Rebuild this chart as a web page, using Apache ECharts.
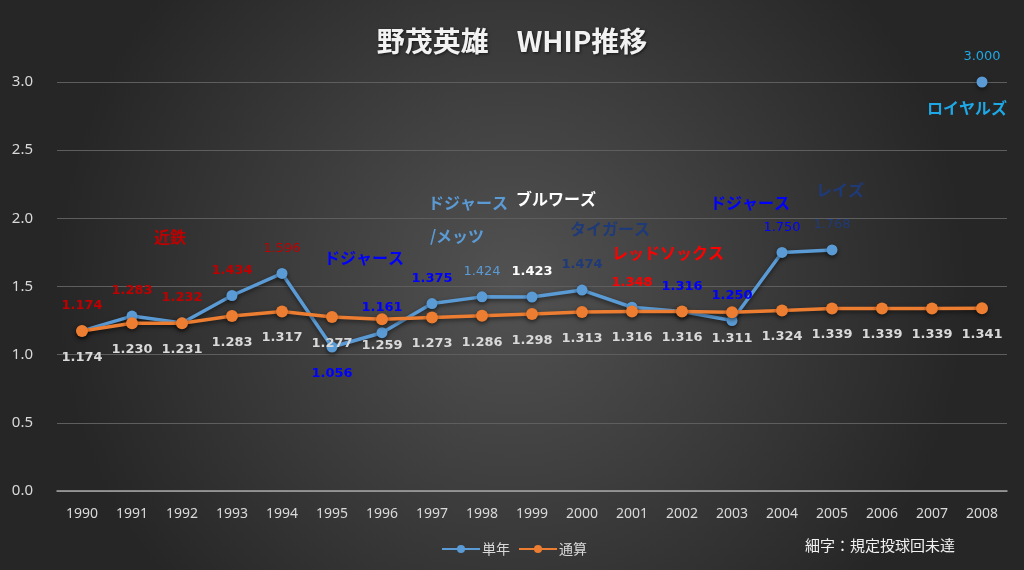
<!DOCTYPE html>
<html><head><meta charset="utf-8">
<script src="https://cdn.jsdelivr.net/npm/echarts@6/dist/echarts.min.js"></script>
<style>html,body{margin:0;padding:0;background:#333;}#c{width:1024px;height:570px;}</style>
</head><body><div id="c"></div>
<script>
const years = ['1990','1991','1992','1993','1994','1995','1996','1997','1998','1999','2000','2001','2002','2003','2004','2005','2006','2007','2008'];
const single = [1.174,1.283,1.232,1.434,1.596,1.056,1.161,1.375,1.424,1.423,1.474,1.348,1.316,1.250,1.750,1.768,null,null,3.000];
const career = [1.174,1.230,1.231,1.283,1.317,1.277,1.259,1.273,1.286,1.298,1.313,1.316,1.316,1.311,1.324,1.339,1.339,1.339,1.341];
const yTicks = [0,0.5,1.0,1.5,2.0,2.5,3.0];
// team annotation texts and anchor (category, value)
const teamNames = ['近鉄','ドジャース','ドジャース','/メッツ','ブルワーズ','タイガース','レッドソックス','ドジャース','レイズ','ロイヤルズ'];
const teamYears = ['1992','1996','1998','1998','1999','2000','2002','2003','2005','2008'];
const teamValues = [1.864,1.709,2.113,1.871,2.142,1.922,1.746,2.113,2.208,2.81];

// styles (separate from data)
const RED='#c00000', BLUE='#0000ff', LB='#5b9bd5', WH='#ffffff', NAVY='#1f3a78', BR='#ff0000', CY='#1ea8e6';
const labelColors = [RED,RED,RED,RED,RED,BLUE,BLUE,BLUE,LB,WH,NAVY,BR,BLUE,BLUE,BLUE,NAVY,null,null,CY];
const labelBold = [1,1,1,1,0,1,1,1,0,1,1,1,1,1,0,0,0,0,0];
const teamColors = [RED,BLUE,LB,LB,WH,NAVY,BR,BLUE,NAVY,CY];
const teamDx = [-12,-18,-14,-25,24,28,-14,18,8,-15];

const singleData = single.map((v,i)=>({
  value: v,
  label: {
    color: labelColors[i] || '#fff',
    fontWeight: labelBold[i] ? 'bold' : 'normal',
    position: i===5 ? 'bottom' : 'top',
    distance: i===5 ? 15 : 13
  }
}));

const chart = echarts.init(document.getElementById('c'));
chart.setOption({
  backgroundColor: {
    type:'radial', x:0.5, y:0.5, r:0.8,
    colorStops:[{offset:0,color:'#525252'},{offset:1,color:'#262626'}]
  },
  animation:false,
  title:{
    text:'野茂英雄　WHIP推移', left:'center', top:22,
    textStyle:{color:'#f2f2f2', fontSize:28, fontWeight:'bold', fontFamily:'Noto Sans CJK JP',
      textShadowColor:'rgba(0,0,0,0.6)', textShadowBlur:3, textShadowOffsetX:1, textShadowOffsetY:1}
  },
  legend:{
    data:['単年','通算'], left:436, top:537, itemWidth:38, itemHeight:10, itemGap:8,
    textStyle:{color:'#d9d9d9', fontSize:14, fontFamily:'Noto Sans CJK JP', padding:[0,0,0,-3]}
  },
  graphic:[{
    type:'text', left:805, top:538,
    style:{text:'細字：規定投球回未達', fill:'#f2f2f2', fontSize:15, fontFamily:'Noto Sans CJK JP'}
  }],
  grid:{left:57, right:17, top:82, bottom:79},
  xAxis:{
    type:'category', data:years, boundaryGap:true,
    axisLine:{lineStyle:{color:'#a6a6a6', width:1.5}},
    axisTick:{show:false},
    axisLabel:{color:'#d9d9d9', fontSize:14, margin:16, fontFamily:'Noto Sans'}
  },
  yAxis:{
    type:'value', min:0, max:3, interval:0.5,
    axisLine:{show:false}, axisTick:{show:false},
    axisLabel:{color:'#d9d9d9', fontSize:15, margin:24, fontFamily:'Noto Sans',
      formatter:v=>v.toFixed(1)},
    splitLine:{lineStyle:{color:'#5e5e5e', width:1}}
  },
  series:[
    {
      name:'単年', type:'line', data:singleData, showAllSymbol:true,
      symbol:'circle', symbolSize:11, connectNulls:false,
      lineStyle:{color:'#5b9bd5', width:3.5, shadowColor:'rgba(0,0,0,0.5)', shadowBlur:4, shadowOffsetY:2},
      itemStyle:{color:'#5b9bd5', shadowColor:'rgba(0,0,0,0.5)', shadowBlur:4, shadowOffsetY:2},
      label:{show:true, fontSize:13, fontFamily:'Verdana, DejaVu Sans',
        formatter:p=>p.value==null?'':p.value.toFixed(3)},
      z:3
    },
    {
      name:'通算', type:'line', data:career, showAllSymbol:true,
      symbol:'circle', symbolSize:12,
      lineStyle:{color:'#ed7d31', width:3.5, shadowColor:'rgba(0,0,0,0.5)', shadowBlur:4, shadowOffsetY:2},
      itemStyle:{color:'#ed7d31', shadowColor:'rgba(0,0,0,0.5)', shadowBlur:4, shadowOffsetY:2},
      label:{show:true, position:'bottom', distance:14, color:'#d9d9d9', fontWeight:'bold', fontSize:13,
        fontFamily:'DejaVu Sans', formatter:p=>p.value.toFixed(3)},
      z:4
    },
    {
      name:'teams', type:'line', data:[], silent:true,
      markPoint:{
        symbol:'circle', symbolSize:0, silent:true,
        data: teamNames.map((n,i)=>({
          coord:[teamYears[i], teamValues[i]],
          label:{show:true, position:'inside', formatter:n, offset:[teamDx[i],0],
            color:teamColors[i], fontSize:16, fontWeight:'bold', fontFamily:'Noto Sans CJK JP'}
        }))
      }
    }
  ]
});
</script></body></html>
